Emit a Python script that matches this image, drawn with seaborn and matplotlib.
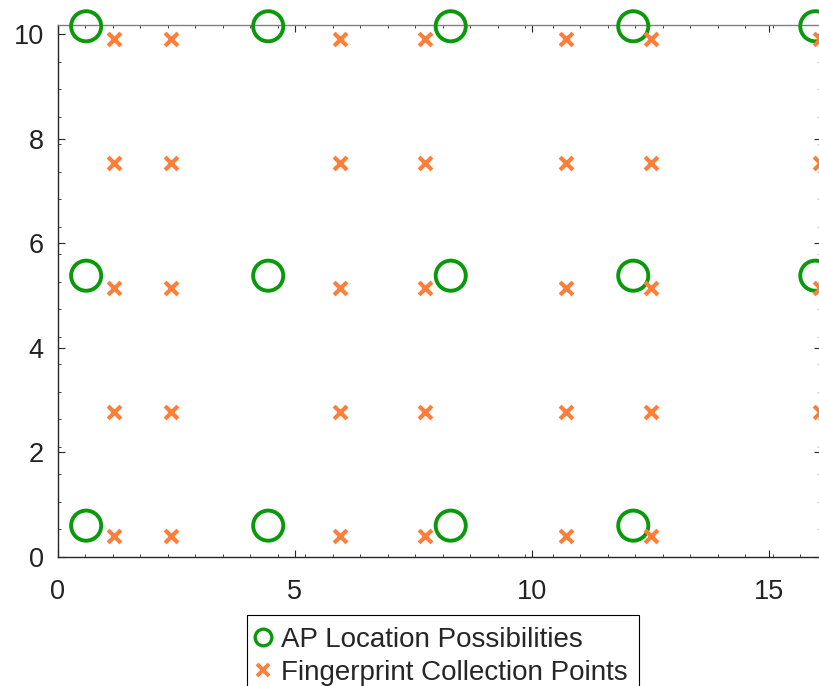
import numpy as np
import pandas as pd
import matplotlib
matplotlib.use("Agg")
import matplotlib.pyplot as plt
from matplotlib.lines import Line2D
from matplotlib.ticker import MultipleLocator
import seaborn as sns

# Candidate access-point locations (x, y) in metres
ap_x = [0.60, 4.44, 8.29, 12.14, 15.98,
        0.60, 4.44, 8.29, 12.14, 15.98,
        0.60, 4.44, 8.29, 12.14]
ap_y = [10.15, 10.15, 10.15, 10.15, 10.15,
        5.38, 5.38, 5.38, 5.38, 5.38,
        0.60, 0.60, 0.60, 0.60]

# Fingerprint collection grid: column positions and row positions
fp_cols = [1.19, 2.38, 5.95, 7.74, 10.72, 12.51, 16.08]
fp_rows = [9.91, 7.54, 5.15, 2.77, 0.41]
# the last column has no point on the bottom row
fp_x = [c for r in fp_rows for c in fp_cols if not (r == 0.41 and c == 16.08)]
fp_y = [r for r in fp_rows for c in fp_cols if not (r == 0.41 and c == 16.08)]

labels = ["AP Location Possibilities", "Fingerprint Collection Points"]
x_ticks = [0, 5, 10, 15]
y_ticks = [0, 2, 4, 6, 8, 10]

ap = pd.DataFrame({"x": ap_x, "y": ap_y})
fp = pd.DataFrame({"x": fp_x, "y": fp_y})

sns.set_theme(style="white")
plt.rcParams["font.family"] = ["Liberation Sans", "DejaVu Sans"]

green = "#0A990A"
orange = "#FF7F3A"
dark = "#262626"

W, H = 820, 686
fig = plt.figure(figsize=(W / 100, H / 100), dpi=100)
fig.patch.set_facecolor("white")

left_px, right_px, top_px, bottom_px = 57.7, 821.0, 24.7, 557.0
ax = fig.add_axes([left_px / W, 1 - bottom_px / H,
                   (right_px - left_px) / W, (bottom_px - top_px) / H])

sns.scatterplot(data=ap, x="x", y="y", ax=ax, marker="o", s=470,
                facecolor="none", edgecolor=green, linewidth=2.8,
                clip_on=False, zorder=3, legend=False)
sns.scatterplot(data=fp, x="x", y="y", ax=ax, marker="x", s=85,
                color=orange, linewidth=3.0, zorder=3, legend=False)

ax.set_xlim(0, 16.10)
ax.set_ylim(0, 10.18)
ax.set_xticks(x_ticks)
ax.set_yticks(y_ticks)
ax.xaxis.set_minor_locator(MultipleLocator(0.58))
ax.yaxis.set_minor_locator(MultipleLocator(10 / 19))
ax.set_xlabel("")
ax.set_ylabel("")

ax.tick_params(axis="both", which="both", direction="in",
               top=True, right=True, bottom=True, left=True,
               colors=dark, labelcolor="#222222")
ax.tick_params(axis="both", which="major", length=5, width=0.8, labelsize=19.5)
ax.tick_params(axis="both", which="minor", length=2.5, width=0.6)
ax.tick_params(axis="x", which="major", pad=16)
ax.tick_params(axis="y", which="major", pad=10)

for side in ["left", "bottom", "right"]:
    ax.spines[side].set_color(dark)
    ax.spines[side].set_linewidth(1.0)
ax.spines["top"].set_color("#808080")
ax.spines["top"].set_linewidth(1.0)

handles = [
    Line2D([], [], linestyle="none", marker="o", markersize=12,
           markerfacecolor="none", markeredgecolor=green, markeredgewidth=2.4),
    Line2D([], [], linestyle="none", marker="x", markersize=8.5,
           color=orange, markeredgewidth=2.8),
]
leg = fig.legend(handles, labels, loc="upper left",
                 bbox_to_anchor=(247 / W, 1 - 615 / H),
                 bbox_transform=fig.transFigure, borderaxespad=0,
                 fontsize=20, frameon=True, fancybox=False,
                 edgecolor="black", framealpha=1, borderpad=0.42,
                 handlelength=0.3, handletextpad=0.49, labelspacing=0.27)
leg.get_frame().set_linewidth(0.8)

fig.savefig("out.png", dpi=100, facecolor="white")
